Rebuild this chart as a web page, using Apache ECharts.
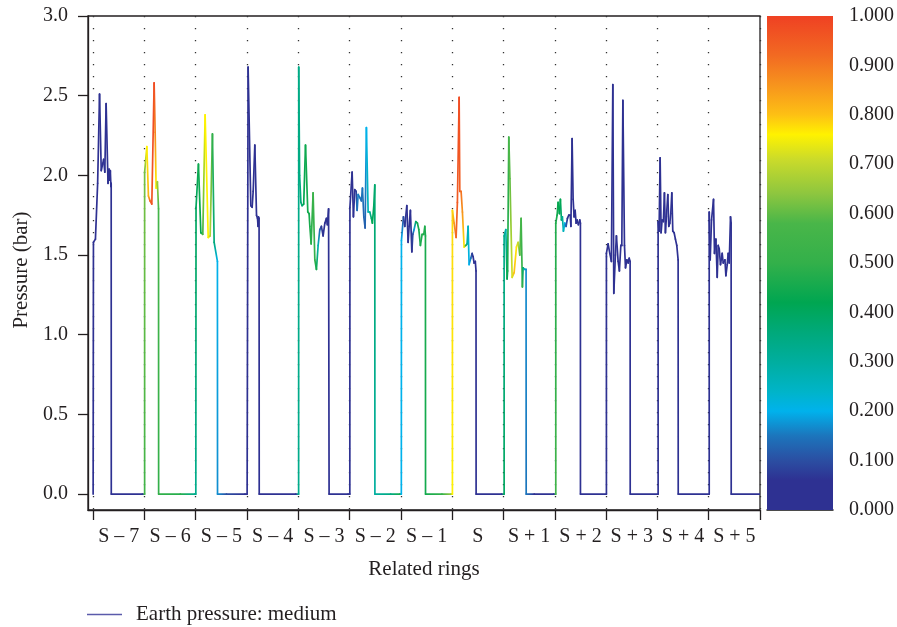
<!DOCTYPE html>
<html>
<head>
    <meta charset="utf-8">
    <title>Earth pressure</title>
    <script src="https://cdn.jsdelivr.net/npm/echarts@6/dist/echarts.min.js"></script>
    <style>
        html, body { margin: 0; padding: 0; background: #ffffff; }
        #chart { width: 897px; height: 627px; }
    </style>
</head>
<body>
<div id="chart"></div>
<script>
    // ring labels (one per unit on the x axis)
    var rings = ['S \u2013 7', 'S \u2013 6', 'S \u2013 5', 'S \u2013 4', 'S \u2013 3', 'S \u2013 2', 'S \u2013 1',
        'S', 'S + 1', 'S + 2', 'S + 3', 'S + 4', 'S + 5'];
    var yTicks = [0, 0.5, 1, 1.5, 2, 2.5, 3];

    // colour scale of the bar on the right (value -> colour)
    var cmapPos = [0.00, 0.06, 0.10, 0.15, 0.20, 0.24, 0.30, 0.36, 0.42, 0.50, 0.58, 0.64, 0.71, 0.76, 0.80, 0.86, 0.92, 1.00];
    var cmapHex = ['#2e3192', '#2e3192', '#2b4ea2', '#1c75bc', '#00b2ec', '#00b4c8', '#00ae9f', '#00a97a', '#00a651',
        '#33b04a', '#49b649', '#8dc63f', '#cbdb2a', '#fff200', '#fdc014', '#f7941d', '#f26a22', '#ef4123'];

    // measured points per ring: [position (ring units), pressure (bar), colour value]
    var ringSm7 = [[0.000, 0, 0.02], [0.006, 1.58, 0.02], [0.045, 1.60, 0.02], [0.088, 1.95, 0.02], [0.125, 2.51, 0.02],
        [0.158, 2.03, 0.02], [0.185, 2.07, 0.02], [0.205, 2.10, 0.02], [0.228, 2.02, 0.02], [0.253, 2.45, 0.02],
        [0.290, 1.95, 0.02], [0.310, 2.04, 0.02], [0.325, 1.97, 0.02], [0.335, 2.03, 0.02], [0.347, 1.93, 0.02],
        [0.352, 1.95, 0.02], [0.354, 0, 0.03], [0.960, 0, 0.05]];
    var ringSm6 = [[1.004, 0, 0.55], [1.004, 2.02, 0.62], [1.047, 2.18, 0.76], [1.078, 1.87, 0.82], [1.110, 1.84, 0.92],
        [1.144, 1.82, 0.96], [1.189, 2.58, 0.98], [1.209, 2.27, 0.88], [1.228, 1.92, 0.76], [1.253, 1.96, 0.66],
        [1.275, 1.79, 0.56], [1.277, 0, 0.50], [1.700, 0, 0.48], [1.980, 0, 0.33]];
    var ringSm5 = [[2.002, 0, 0.33], [2.006, 1.80, 0.40], [2.053, 2.07, 0.44], [2.100, 1.64, 0.42], [2.138, 1.63, 0.55],
        [2.183, 2.38, 0.76], [2.243, 1.61, 0.76], [2.281, 1.62, 0.68], [2.326, 2.26, 0.50], [2.359, 1.58, 0.36],
        [2.423, 1.46, 0.20], [2.425, 0, 0.17], [2.600, 0, 0.10], [2.960, 0, 0.03]];
    var ringSm4 = [[3.002, 0, 0.02], [3.021, 2.68, 0.02], [3.074, 1.81, 0.02], [3.100, 1.80, 0.02], [3.120, 1.90, 0.02],
        [3.152, 2.19, 0.02], [3.185, 1.75, 0.02], [3.205, 1.73, 0.02], [3.215, 1.68, 0.02], [3.222, 1.74, 0.02],
        [3.235, 1.73, 0.02], [3.238, 0, 0.02], [3.950, 0, 0.05]];
    var ringSm3 = [[4.006, 0, 0.33], [4.008, 2.68, 0.34], [4.025, 2.00, 0.35], [4.050, 1.83, 0.36], [4.074, 1.81, 0.37],
        [4.105, 1.82, 0.42], [4.140, 2.19, 0.44], [4.185, 1.77, 0.45], [4.210, 1.76, 0.45], [4.225, 1.68, 0.46],
        [4.250, 1.57, 0.48], [4.288, 1.89, 0.52], [4.322, 1.47, 0.50], [4.353, 1.41, 0.45], [4.386, 1.56, 0.28],
        [4.419, 1.66, 0.13], [4.450, 1.68, 0.07], [4.483, 1.62, 0.05], [4.517, 1.70, 0.03], [4.548, 1.73, 0.02],
        [4.567, 1.69, 0.02], [4.590, 1.79, 0.02], [4.600, 0, 0.02], [4.970, 0, 0.03]];
    var ringSm2 = [[5.004, 0, 0.02], [5.006, 1.80, 0.02], [5.049, 2.02, 0.03], [5.074, 1.74, 0.04], [5.101, 1.91, 0.06],
        [5.127, 1.90, 0.08], [5.146, 1.78, 0.14], [5.166, 1.88, 0.16], [5.199, 1.86, 0.15], [5.230, 1.84, 0.14],
        [5.250, 1.92, 0.15], [5.277, 1.74, 0.13], [5.302, 1.67, 0.12], [5.327, 2.30, 0.20], [5.361, 1.77, 0.27],
        [5.394, 1.77, 0.32], [5.425, 1.73, 0.38], [5.444, 1.70, 0.42], [5.472, 1.81, 0.40], [5.491, 1.94, 0.38],
        [5.493, 0, 0.30], [5.800, 0, 0.35], [5.980, 0, 0.45]];
    var ringSm1 = [[6.008, 0, 0.20], [6.010, 1.59, 0.20], [6.049, 1.74, 0.10], [6.076, 1.68, 0.07], [6.115, 1.81, 0.04],
        [6.140, 1.58, 0.04], [6.160, 1.68, 0.04], [6.185, 1.78, 0.04], [6.213, 1.52, 0.05], [6.232, 1.63, 0.10],
        [6.257, 1.66, 0.18], [6.290, 1.71, 0.38], [6.322, 1.70, 0.45], [6.349, 1.66, 0.45], [6.380, 1.56, 0.46],
        [6.413, 1.63, 0.47], [6.446, 1.63, 0.47], [6.466, 1.68, 0.47], [6.478, 1.62, 0.46], [6.480, 0, 0.45],
        [6.800, 0, 0.50], [6.980, 0, 0.65]];
    var ringS = [[7.004, 0, 0.76], [7.004, 1.78, 0.78], [7.037, 1.70, 0.85], [7.076, 1.61, 0.92], [7.101, 1.83, 0.95],
        [7.135, 2.49, 0.98], [7.148, 1.90, 0.94], [7.173, 1.90, 0.91], [7.199, 1.77, 0.86], [7.232, 1.55, 0.77],
        [7.265, 1.56, 0.50], [7.290, 1.57, 0.32], [7.310, 1.68, 0.26], [7.329, 1.44, 0.20], [7.362, 1.48, 0.15],
        [7.388, 1.51, 0.08], [7.407, 1.49, 0.04], [7.427, 1.45, 0.03], [7.450, 1.46, 0.02], [7.464, 1.40, 0.02],
        [7.466, 0, 0.02], [7.960, 0, 0.04]];
    var ringSp1 = [[8.012, 0, 0.40], [8.012, 1.62, 0.33], [8.045, 1.66, 0.28], [8.070, 1.35, 0.42], [8.080, 1.40, 0.45],
        [8.103, 2.24, 0.55], [8.125, 1.98, 0.60], [8.168, 1.36, 0.72], [8.207, 1.39, 0.80], [8.252, 1.55, 0.77],
        [8.285, 1.58, 0.70], [8.318, 1.50, 0.60], [8.343, 1.73, 0.56], [8.368, 1.30, 0.50], [8.382, 1.42, 0.38],
        [8.415, 1.41, 0.25], [8.440, 1.41, 0.17], [8.442, 0, 0.15], [8.600, 0, 0.06], [8.980, 0, 0.04]];
    var ringSp2 = [[9.019, 0, 0.55], [9.019, 1.70, 0.47], [9.045, 1.75, 0.45], [9.064, 1.83, 0.43], [9.090, 1.76, 0.42],
        [9.109, 1.85, 0.42], [9.129, 1.72, 0.38], [9.148, 1.74, 0.32], [9.168, 1.65, 0.26], [9.195, 1.70, 0.20],
        [9.220, 1.68, 0.12], [9.246, 1.73, 0.05], [9.273, 1.75, 0.03], [9.300, 1.75, 0.02], [9.314, 1.68, 0.02],
        [9.337, 2.23, 0.02], [9.357, 1.85, 0.02], [9.376, 1.74, 0.02], [9.396, 1.78, 0.02], [9.415, 1.70, 0.02],
        [9.435, 1.72, 0.02], [9.460, 1.69, 0.02], [9.487, 1.72, 0.02], [9.499, 1.70, 0.02], [9.500, 0, 0.02]];
    var ringSp3 = [[10.006, 0, 0.02], [10.006, 1.51, 0.02], [10.039, 1.57, 0.02], [10.072, 1.51, 0.02], [10.103, 1.46, 0.02],
        [10.131, 2.57, 0.02], [10.150, 1.26, 0.02], [10.181, 1.50, 0.02], [10.201, 1.62, 0.02], [10.234, 1.46, 0.02],
        [10.259, 1.40, 0.02], [10.287, 1.56, 0.02], [10.306, 1.56, 0.02], [10.327, 2.47, 0.02], [10.358, 1.56, 0.02],
        [10.378, 1.42, 0.02], [10.405, 1.47, 0.02], [10.431, 1.45, 0.02], [10.450, 1.48, 0.02], [10.468, 1.46, 0.02],
        [10.470, 0, 0.02]];
    var ringSp4 = [[11.014, 0, 0.02], [11.014, 1.71, 0.02], [11.033, 1.65, 0.02], [11.053, 2.11, 0.02], [11.072, 1.64, 0.02],
        [11.092, 1.72, 0.02], [11.117, 1.71, 0.02], [11.137, 1.89, 0.02], [11.156, 1.64, 0.02], [11.176, 1.74, 0.02],
        [11.203, 1.88, 0.02], [11.222, 1.68, 0.02], [11.242, 1.70, 0.02], [11.261, 1.76, 0.02], [11.281, 1.89, 0.02],
        [11.300, 1.65, 0.02], [11.326, 1.64, 0.02], [11.351, 1.60, 0.02], [11.378, 1.56, 0.02], [11.404, 1.47, 0.02],
        [11.406, 0, 0.02]];
    var ringSp5 = [[12.010, 0, 0.02], [12.010, 1.77, 0.02], [12.029, 1.47, 0.02], [12.055, 1.72, 0.02], [12.094, 1.85, 0.02],
        [12.113, 1.51, 0.02], [12.140, 1.60, 0.02], [12.166, 1.36, 0.02], [12.185, 1.56, 0.02], [12.205, 1.54, 0.02],
        [12.230, 1.44, 0.02], [12.263, 1.51, 0.02], [12.283, 1.45, 0.02], [12.316, 1.47, 0.02], [12.335, 1.37, 0.02],
        [12.361, 1.44, 0.02], [12.380, 1.51, 0.02], [12.400, 1.45, 0.02], [12.425, 1.74, 0.02], [12.437, 1.70, 0.02],
        [12.439, 0, 0.02], [13.000, 0, 0.02]];

    var traces = [ringSm7, ringSm6, ringSm5, ringSm4, ringSm3, ringSm2, ringSm1,
        ringS, ringSp1, ringSp2, ringSp3, ringSp4, ringSp5];

    function hexRgb(h) {
        return [parseInt(h.substr(1, 2), 16), parseInt(h.substr(3, 2), 16), parseInt(h.substr(5, 2), 16)];
    }

    // value in [0,1] -> colour from the colour bar
    function cmap(v) {
        v = Math.max(0, Math.min(1, v));
        for (var i = 1; i < cmapPos.length; i++) {
            if (v <= cmapPos[i]) {
                var t = (v - cmapPos[i - 1]) / (cmapPos[i] - cmapPos[i - 1] || 1);
                var a = hexRgb(cmapHex[i - 1]), b = hexRgb(cmapHex[i]);
                return 'rgb(' + Math.round(a[0] + (b[0] - a[0]) * t) + ',' +
                    Math.round(a[1] + (b[1] - a[1]) * t) + ',' +
                    Math.round(a[2] + (b[2] - a[2]) * t) + ')';
            }
        }
        return cmapHex[cmapHex.length - 1];
    }

    // consecutive points -> line pieces [x0, y0, c0, x1, y1, c1]
    var points = [];
    traces.forEach(function (t) { points = points.concat(t); });
    var pieces = [];
    for (var i = 1; i < points.length; i++) {
        pieces.push([points[i - 1][0], points[i - 1][1], points[i - 1][2], points[i][0], points[i][1], points[i][2]]);
    }

    var barStops = cmapPos.map(function (p, k) { return {offset: p, color: cmapHex[k]}; });

    var ink = '#231f20';
    var font = 'Liberation Serif';
    var chart = echarts.init(document.getElementById('chart'), null, {renderer: 'canvas'});

    var option = {
        backgroundColor: '#ffffff',
        animation: false,
        textStyle: {fontFamily: font, color: ink},
        legend: {
            left: 87,
            top: 604,
            padding: 0,
            itemWidth: 35,
            itemHeight: 1.5,
            textStyle: {fontFamily: font, fontSize: 21, color: ink, padding: [0, 0, 0, 9]},
            data: [{name: 'Earth pressure: medium', icon: 'rect', itemStyle: {color: '#5b5bab'}}]
        },
        grid: [
            {left: 88, right: 137, top: 16, bottom: 117, show: true, borderColor: ink, borderWidth: 1.3},
            {left: 767, right: 63, top: 16, bottom: 117}
        ],
        xAxis: [
            {
                type: 'value',
                gridIndex: 0,
                min: -0.1,
                max: 13,
                name: 'Related rings',
                nameLocation: 'middle',
                nameGap: 49,
                nameTextStyle: {fontFamily: font, fontSize: 21, color: ink},
                axisLine: {show: true, onZero: false, lineStyle: {color: ink, width: 1.3}},
                axisTick: {show: true, length: 10, lineStyle: {color: ink, width: 1.3},
                    customValues: rings.map(function (r, k) { return k; }).concat([rings.length])},
                axisLabel: {
                    fontFamily: font, fontSize: 20, color: ink, margin: 17,
                    customValues: rings.map(function (r, k) { return k + 0.5; }),
                    formatter: function (v) { return rings[Math.floor(v)]; }
                },
                splitLine: {show: true, lineStyle: {color: '#333333', width: 1.3, type: [1.2, 10.8]}}
            },
            {
                type: 'category',
                gridIndex: 1,
                data: ['scale'],
                axisLine: {show: true, lineStyle: {color: '#111111', width: 1.5}},
                axisTick: {show: false},
                axisLabel: {show: false}
            }
        ],
        yAxis: [
            {
                type: 'value',
                gridIndex: 0,
                min: -0.1,
                max: 3,
                name: 'Pressure (bar)',
                nameLocation: 'middle',
                nameGap: 56,
                nameTextStyle: {fontFamily: font, fontSize: 21, color: ink, padding: [0, 14, 0, 0]},
                axisLine: {show: true, onZero: false, lineStyle: {color: ink, width: 1.3}},
                axisTick: {show: true, length: 10, lineStyle: {color: ink, width: 1.3}, customValues: yTicks},
                axisLabel: {
                    fontFamily: font, fontSize: 20, color: ink, margin: 20,
                    customValues: yTicks,
                    formatter: function (v) { return v.toFixed(1); }
                },
                splitLine: {show: false}
            },
            {
                type: 'value',
                gridIndex: 1,
                position: 'right',
                min: 0,
                max: 1,
                interval: 0.1,
                axisLine: {show: false},
                axisTick: {show: false},
                splitLine: {show: false},
                axisLabel: {
                    fontFamily: font, fontSize: 20, color: ink, margin: 16,
                    formatter: function (v) { return v.toFixed(3); }
                }
            }
        ],
        series: [
            {
                name: 'Earth pressure: medium',
                type: 'custom',
                xAxisIndex: 0,
                yAxisIndex: 0,
                clip: true,
                itemStyle: {color: '#2e3192'},
                encode: {x: [0, 3], y: [1, 4]},
                data: pieces,
                renderItem: function (params, api) {
                    var p0 = api.coord([api.value(0), api.value(1)]);
                    var p1 = api.coord([api.value(3), api.value(4)]);
                    var c0 = cmap(api.value(2)), c1 = cmap(api.value(5));
                    var stroke = c0;
                    if (Math.abs(p1[0] - p0[0]) + Math.abs(p1[1] - p0[1]) > 0.5) {
                        stroke = new echarts.graphic.LinearGradient(p0[0], p0[1], p1[0], p1[1],
                            [{offset: 0, color: c0}, {offset: 1, color: c1}], true);
                    }
                    return {
                        type: 'line',
                        silent: true,
                        shape: {x1: p0[0], y1: p0[1], x2: p1[0], y2: p1[1]},
                        style: {stroke: stroke, lineWidth: 1.7, lineCap: 'round', fill: null}
                    };
                }
            },
            {
                name: 'scale',
                type: 'bar',
                xAxisIndex: 1,
                yAxisIndex: 1,
                silent: true,
                barWidth: '100%',
                data: [1],
                itemStyle: {color: new echarts.graphic.LinearGradient(0, 1, 0, 0, barStops)}
            }
        ]
    };
    chart.setOption(option);
</script>
</body>
</html>
